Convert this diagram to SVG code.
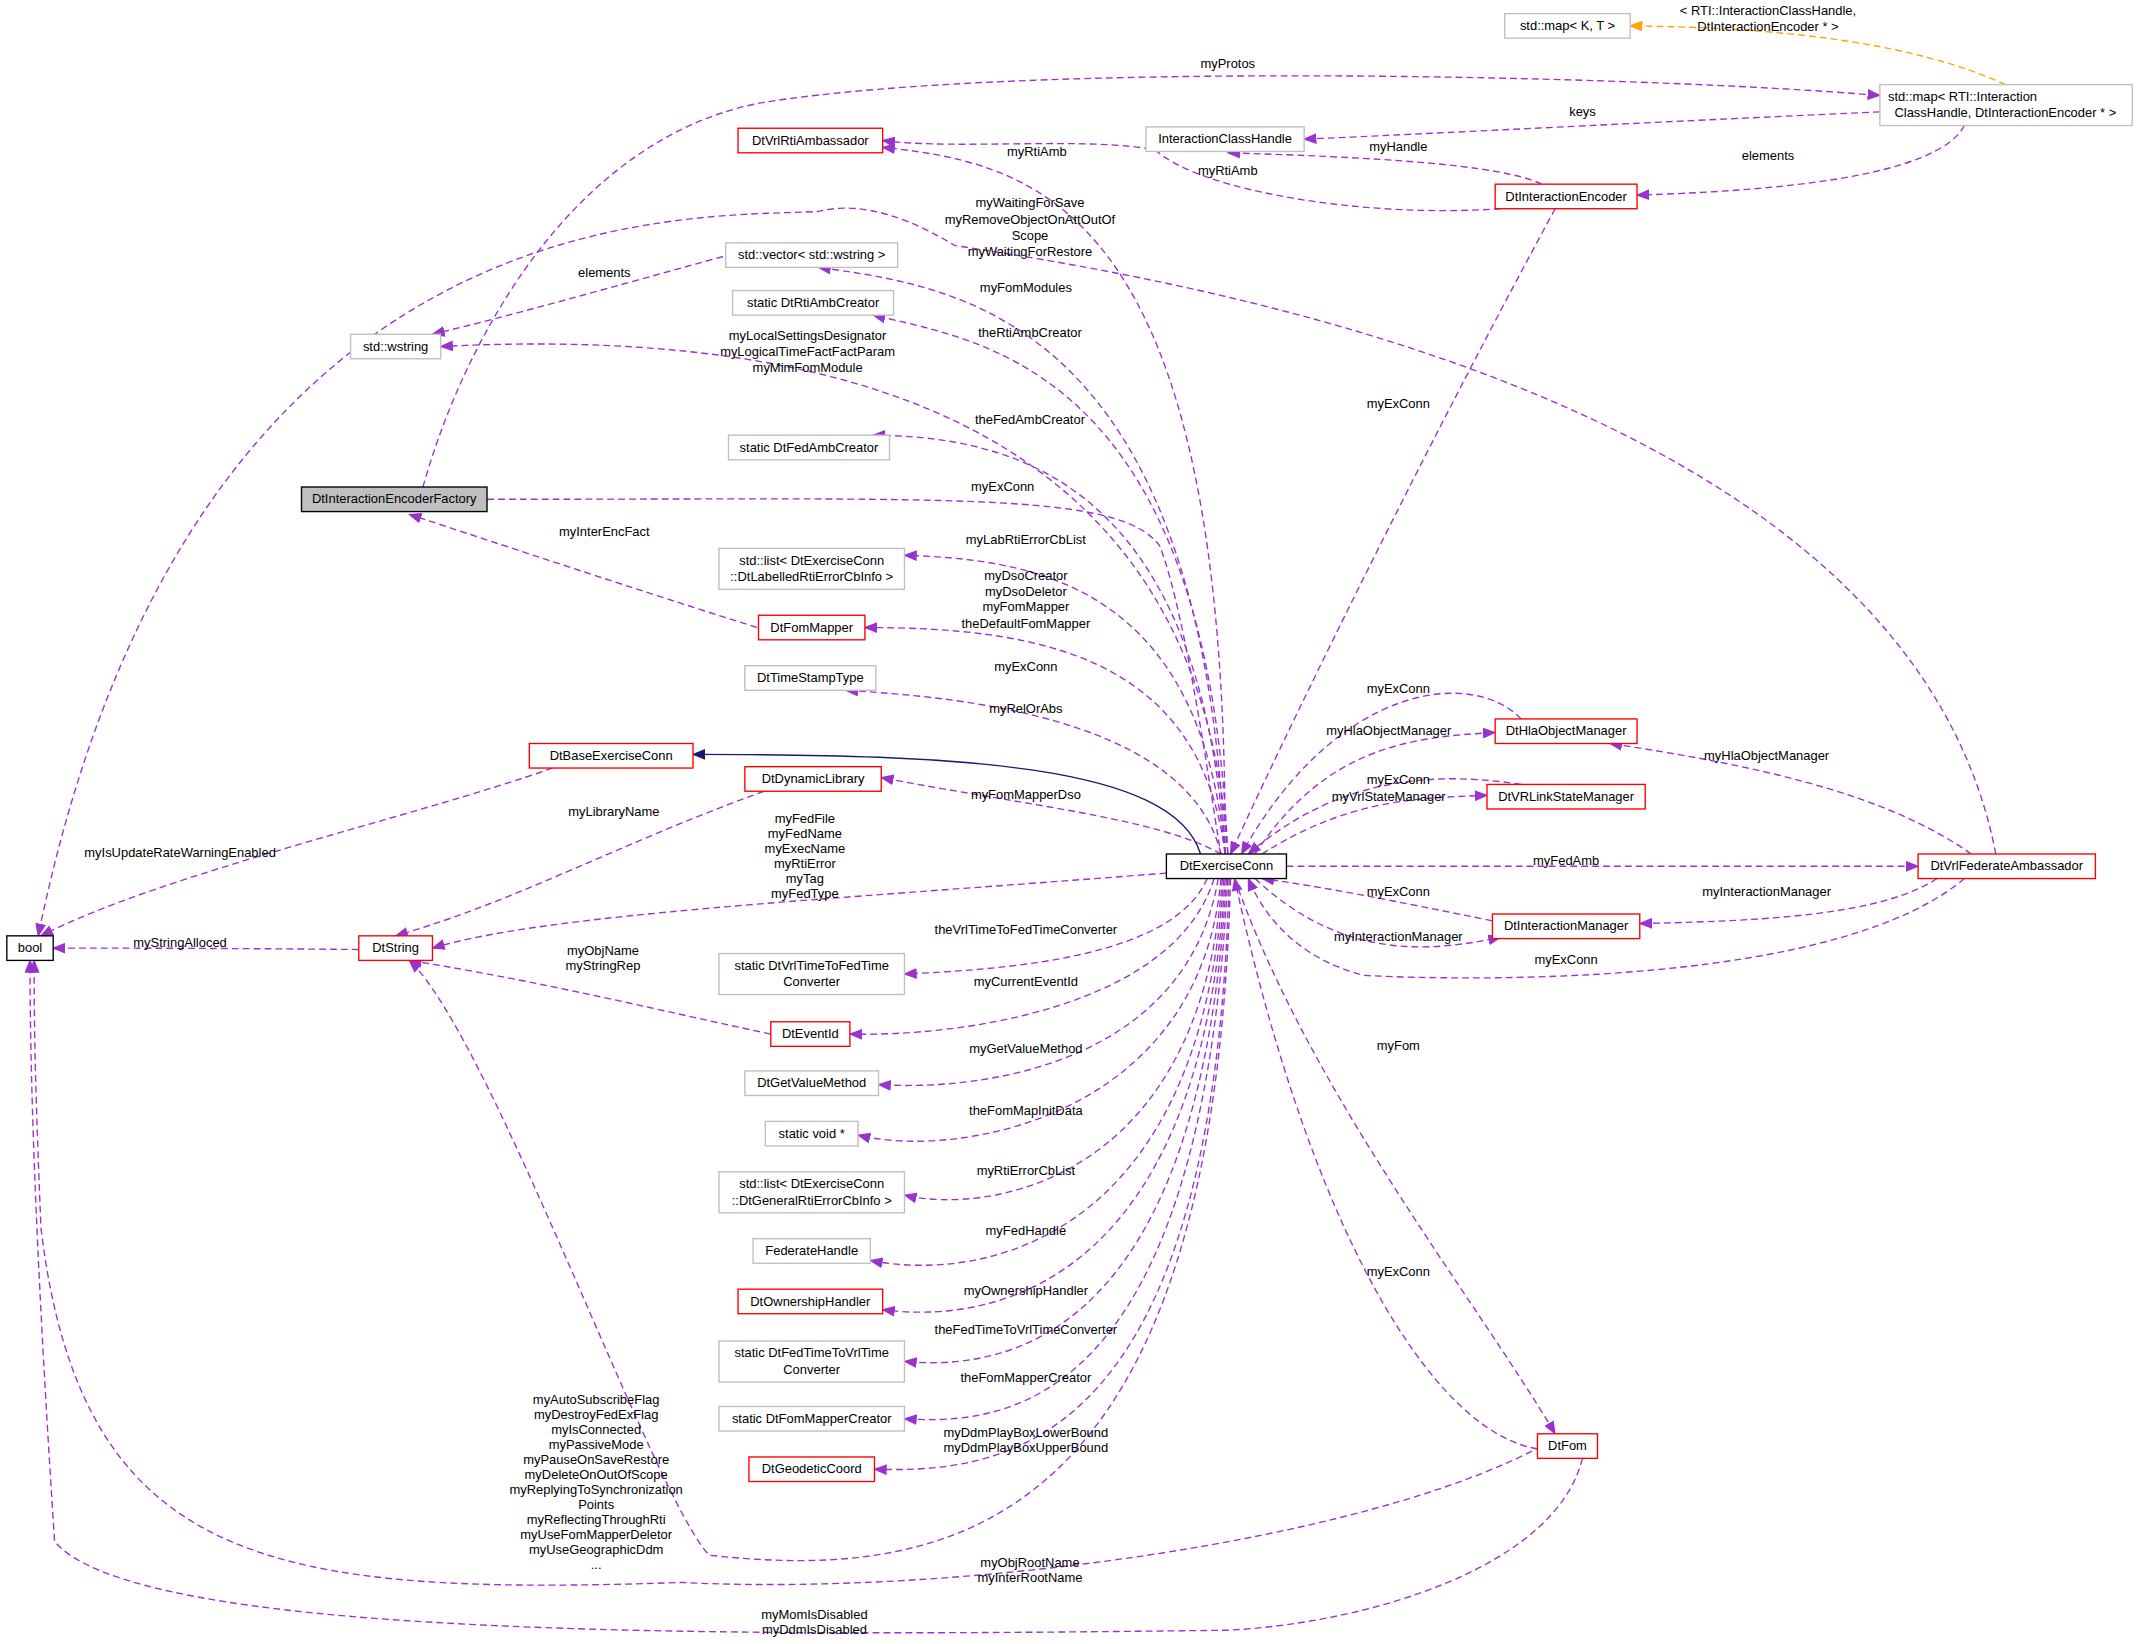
<svg xmlns="http://www.w3.org/2000/svg" width="2139" height="1644" viewBox="0 0 2139 1644">
<style>
.n rect{stroke-width:1}
.g{fill:#fff;stroke:#bfbfbf}
.r{fill:#fff;stroke:#ff0000}
.k{fill:#fff;stroke:#000}
text{font-family:"Liberation Sans",Arial,sans-serif;font-size:9.5px;fill:#000}
.e path{fill:none;stroke:#9a32cd;stroke-dasharray:5,3;stroke-width:1}
.c{text-anchor:middle}
</style>
<defs>
<marker id="a" markerUnits="userSpaceOnUse" markerWidth="10" markerHeight="8" refX="9" refY="4" orient="auto"><path d="M0,0L10,4L0,8z" fill="#9a32cd"/></marker>
<marker id="o" markerUnits="userSpaceOnUse" markerWidth="10" markerHeight="8" refX="9" refY="4" orient="auto"><path d="M0,0L10,4L0,8z" fill="#ffa500"/></marker>
<marker id="b" markerUnits="userSpaceOnUse" markerWidth="10" markerHeight="8" refX="9" refY="4" orient="auto"><path d="M0,0L10,4L0,8z" fill="#191970"/></marker>
</defs>
<rect width="2139" height="1644" fill="#fff"/>
<g transform="scale(1.3642)">
<g id="edges" class="e">
<path marker-end="url(#a)" d="M900,626C880,300 600,240 323,254"/>
<path marker-end="url(#a)" d="M898,626C880,230 700,210 600,196"/>
<path marker-end="url(#a)" d="M900,626C885,270 720,250 640,231"/>
<path marker-end="url(#a)" d="M898,626C880,350 740,320 640,319"/>
<path d="M357,366C700,366 820,360 850,400 870,450 890,600 895,626"/>
<path marker-end="url(#a)" d="M898,626C880,430 760,410 663,407"/>
<path marker-end="url(#a)" d="M898,626C880,480 760,460 634,460"/>
<path marker-end="url(#a)" d="M895,626C870,520 680,510 620,506"/>
<path marker-end="url(#a)" d="M898,626C900,150 760,120 647,108"/>
<path marker-end="url(#a)" d="M895,626C850,600 750,590 646,570"/>
<path marker-end="url(#a)" d="M855,640C600,660 400,670 317,695"/>
<path marker-end="url(#a)" d="M885,644C860,700 750,710 663,714"/>
<path marker-end="url(#a)" d="M890,644C860,740 700,760 623,758"/>
<path marker-end="url(#a)" d="M893,644C870,780 720,800 644,795"/>
<path marker-end="url(#a)" d="M895,644C880,820 700,850 629,832"/>
<path marker-end="url(#a)" d="M896,644C880,870 720,890 663,876"/>
<path marker-end="url(#a)" d="M897,644C880,910 720,940 638,924"/>
<path marker-end="url(#a)" d="M898,644C880,950 720,970 647,960"/>
<path marker-end="url(#a)" d="M899,644C880,980 740,1005 663,998"/>
<path marker-end="url(#a)" d="M900,644C880,1030 740,1045 663,1040"/>
<path marker-end="url(#a)" d="M901,644C890,1060 740,1080 641,1077"/>
<path marker-end="url(#a)" d="M902,644C890,1120 700,1160 520,1140 480,1100 360,760 300,704"/>
<path marker-end="url(#a)" d="M310,357C340,250 420,100 560,75 750,45 1200,55 1378,70"/>
<path marker-end="url(#a)" d="M1378,82C1200,90 1050,98 956,102"/>
<path marker-end="url(#a)" d="M1440,92C1420,130 1300,140 1200,143"/>
<path marker-end="url(#a)" d="M1100,153C1000,160 880,140 847,110 800,100 700,110 647,103"/>
<path marker-end="url(#a)" d="M1130,135C1100,120 1000,115 900,112"/>
<path marker-end="url(#a)" d="M1140,153C1060,300 960,500 902,626"/>
<path marker-end="url(#a)" d="M555,460C460,430 400,410 300,377"/>
<path marker-end="url(#a)" d="M263,696C150,695 80,695 39,695"/>
<path marker-end="url(#a)" d="M405,563C300,600 120,640 30,686"/>
<path marker-end="url(#a)" d="M565,758C480,740 400,720 300,704"/>
<path marker-end="url(#a)" d="M560,580C450,620 380,660 290,686"/>
<path marker-end="url(#a)" d="M530,188C450,210 380,230 317,245"/>
<path marker-end="url(#a)" d="M1463,626C1400,300 900,210 700,180 650,150 620,150 600,155 500,160 140,140 28,686"/>
<path marker-end="url(#a)" d="M1160,1069C1140,1150 1000,1190 900,1195 500,1200 100,1200 40,1130 25,900 22,780 22,704"/>
<path marker-end="url(#a)" d="M1130,1060C1000,1130 700,1170 500,1160 200,1170 60,1150 30,900 26,800 25,760 25,704"/>
<path marker-end="url(#a)" d="M1127,1062C1050,1050 960,900 905,644"/>
<path marker-end="url(#a)" d="M905,644C960,800 1080,950 1140,1051"/>
<path marker-end="url(#a)" d="M943,635C1150,635 1300,635 1406,635"/>
<path marker-end="url(#a)" d="M1445,626C1380,580 1280,560 1180,545"/>
<path marker-end="url(#a)" d="M1420,644C1380,670 1300,675 1202,677"/>
<path marker-end="url(#a)" d="M1440,644C1350,720 1100,720 1000,715 960,705 930,680 915,644"/>
<path marker-end="url(#a)" d="M1115,527C1080,490 980,500 910,626"/>
<path marker-end="url(#a)" d="M920,626C970,550 1030,540 1096,537"/>
<path marker-end="url(#a)" d="M1115,575C1050,565 980,570 915,626"/>
<path marker-end="url(#a)" d="M925,626C990,585 1040,585 1090,583"/>
<path marker-end="url(#a)" d="M1094,675C1020,660 970,650 925,644"/>
<path marker-end="url(#a)" d="M920,644C980,700 1040,700 1100,687"/>
<path marker-end="url(#o)" style="stroke:#ffa500" d="M1470,62C1400,30 1300,20 1195,19"/>
<path style="stroke:#191970;stroke-dasharray:none" marker-end="url(#b)" d="M880,626C860,560 700,553 508,553"/>
</g>
<g id="nodes">
<g id="n1"><rect class="k" x="5" y="686" width="34" height="18"/><text x="22" y="698" class="c">bool</text></g>
<g id="n2"><rect class="r" x="263" y="686" width="54" height="18"/><text x="290" y="698" class="c">DtString</text></g>
<g id="n3"><rect x="221" y="357" width="136" height="18" fill="#bfbfbf" stroke="#000"/><text x="289" y="369" class="c">DtInteractionEncoderFactory</text></g>
<g id="n4"><rect class="g" x="257" y="245" width="66" height="18"/><text x="290" y="257" class="c">std::wstring</text></g>
<g id="n5"><rect class="g" x="532" y="178" width="126" height="18"/><text x="595" y="190" class="c">std::vector&lt; std::wstring &gt;</text></g>
<g id="n6"><rect class="g" x="537" y="213" width="118" height="18"/><text x="596" y="225" class="c">static DtRtiAmbCreator</text></g>
<g id="n7"><rect class="g" x="534" y="319" width="118" height="18"/><text x="593" y="331" class="c">static DtFedAmbCreator</text></g>
<g id="n8"><rect class="g" x="527" y="402" width="136" height="30"/><text x="595" y="414" class="c">std::list&lt; DtExerciseConn</text><text x="595" y="426" class="c">::DtLabelledRtiErrorCbInfo &gt;</text></g>
<g id="n9"><rect class="r" x="556" y="451" width="78" height="18"/><text x="595" y="463" class="c">DtFomMapper</text></g>
<g id="n10"><rect class="g" x="546" y="488" width="96" height="18"/><text x="594" y="500" class="c">DtTimeStampType</text></g>
<g id="n11"><rect class="r" x="388" y="545" width="120" height="18"/><text x="448" y="557" class="c">DtBaseExerciseConn</text></g>
<g id="n12"><rect class="r" x="546" y="562" width="100" height="18"/><text x="596" y="574" class="c">DtDynamicLibrary</text></g>
<g id="n13"><rect class="g" x="527" y="699" width="136" height="30"/><text x="595" y="711" class="c">static DtVrlTimeToFedTime</text><text x="595" y="723" class="c">Converter</text></g>
<g id="n14"><rect class="r" x="565" y="749" width="58" height="18"/><text x="594" y="761" class="c">DtEventId</text></g>
<g id="n15"><rect class="g" x="546" y="785" width="98" height="18"/><text x="595" y="797" class="c">DtGetValueMethod</text></g>
<g id="n16"><rect class="g" x="561" y="822" width="68" height="18"/><text x="595" y="834" class="c">static void *</text></g>
<g id="n17"><rect class="g" x="527" y="859" width="136" height="30"/><text x="595" y="871" class="c">std::list&lt; DtExerciseConn</text><text x="595" y="883" class="c">::DtGeneralRtiErrorCbInfo &gt;</text></g>
<g id="n18"><rect class="g" x="552" y="908" width="86" height="18"/><text x="595" y="920" class="c">FederateHandle</text></g>
<g id="n19"><rect class="r" x="541" y="945" width="106" height="18"/><text x="594" y="957" class="c">DtOwnershipHandler</text></g>
<g id="n20"><rect class="g" x="527" y="983" width="136" height="30"/><text x="595" y="995" class="c">static DtFedTimeToVrlTime</text><text x="595" y="1007" class="c">Converter</text></g>
<g id="n21"><rect class="g" x="527" y="1031" width="136" height="18"/><text x="595" y="1043" class="c">static DtFomMapperCreator</text></g>
<g id="n22"><rect class="r" x="549" y="1068" width="92" height="18"/><text x="595" y="1080" class="c">DtGeodeticCoord</text></g>
<g id="n23"><rect class="r" x="541" y="94" width="106" height="18"/><text x="594" y="106" class="c">DtVrlRtiAmbassador</text></g>
<g id="n24"><rect class="k" x="855" y="626" width="88" height="18"/><text x="899" y="638" class="c">DtExerciseConn</text></g>
<g id="n25"><rect class="r" x="1096" y="135" width="104" height="18"/><text x="1148" y="147" class="c">DtInteractionEncoder</text></g>
<g id="n26"><rect class="g" x="840" y="93" width="116" height="18"/><text x="898" y="105" class="c">InteractionClassHandle</text></g>
<g id="n27"><rect class="g" x="1103" y="10" width="92" height="18"/><text x="1149" y="22" class="c">std::map&lt; K, T &gt;</text></g>
<g id="n28"><rect class="g" x="1378" y="62" width="185" height="30"/><text x="1384" y="74">std::map&lt; RTI::Interaction</text><text x="1470" y="86" class="c">ClassHandle, DtInteractionEncoder * &gt;</text></g>
<g id="n29"><rect class="r" x="1096" y="527" width="104" height="18"/><text x="1148" y="539" class="c">DtHlaObjectManager</text></g>
<g id="n30"><rect class="r" x="1090" y="575" width="116" height="18"/><text x="1148" y="587" class="c">DtVRLinkStateManager</text></g>
<g id="n31"><rect class="r" x="1406" y="626" width="130" height="18"/><text x="1471" y="638" class="c">DtVrlFederateAmbassador</text></g>
<g id="n32"><rect class="r" x="1094" y="670" width="108" height="18"/><text x="1148" y="682" class="c">DtInteractionManager</text></g>
<g id="n33"><rect class="r" x="1127" y="1051" width="44" height="18"/><text x="1149" y="1063" class="c">DtFom</text></g>
</g>
<g id="labels" class="c">
<text x="1296" y="11">&lt; RTI::InteractionClassHandle,</text><text x="1296" y="23">DtInteractionEncoder * &gt;</text>
<text x="900" y="50">myProtos</text>
<text x="1160" y="85">keys</text>
<text x="1296" y="117">elements</text>
<text x="1025" y="111">myHandle</text>
<text x="900" y="128">myRtiAmb</text>
<text x="760" y="114">myRtiAmb</text>
<text x="755" y="152">myWaitingForSave</text><text x="755" y="164">myRemoveObjectOnAttOutOf</text><text x="755" y="176">Scope</text><text x="755" y="188">myWaitingForRestore</text>
<text x="443" y="203">elements</text>
<text x="752" y="214">myFomModules</text>
<text x="755" y="247">theRtiAmbCreator</text>
<text x="592" y="249">myLocalSettingsDesignator</text><text x="592" y="261">myLogicalTimeFactFactParam</text><text x="592" y="273">myMimFomModule</text>
<text x="1025" y="299">myExConn</text>
<text x="755" y="311">theFedAmbCreator</text>
<text x="735" y="360">myExConn</text>
<text x="443" y="393">myInterEncFact</text>
<text x="752" y="399">myLabRtiErrorCbList</text>
<text x="752" y="425">myDsoCreator</text><text x="752" y="437">myDsoDeletor</text><text x="752" y="448">myFomMapper</text><text x="752" y="460">theDefaultFomMapper</text>
<text x="752" y="492">myExConn</text>
<text x="752" y="523">myRelOrAbs</text>
<text x="1025" y="508">myExConn</text>
<text x="1018" y="539">myHlaObjectManager</text>
<text x="1295" y="557">myHlaObjectManager</text>
<text x="1025" y="575">myExConn</text>
<text x="1018" y="587">myVrlStateManager</text>
<text x="752" y="586">myFomMapperDso</text>
<text x="450" y="598">myLibraryName</text>
<text x="590" y="603">myFedFile</text><text x="590" y="614">myFedName</text><text x="590" y="625">myExecName</text><text x="590" y="636">myRtiError</text><text x="590" y="647">myTag</text><text x="590" y="658">myFedType</text>
<text x="132" y="628">myIsUpdateRateWarningEnabled</text>
<text x="1148" y="634">myFedAmb</text>
<text x="1025" y="657">myExConn</text>
<text x="1295" y="657">myInteractionManager</text>
<text x="1025" y="690">myInteractionManager</text>
<text x="1148" y="707">myExConn</text>
<text x="132" y="694">myStringAlloced</text>
<text x="752" y="685">theVrlTimeToFedTimeConverter</text>
<text x="442" y="700">myObjName</text><text x="442" y="711">myStringRep</text>
<text x="752" y="723">myCurrentEventId</text>
<text x="1025" y="770">myFom</text>
<text x="752" y="772">myGetValueMethod</text>
<text x="752" y="817">theFomMapInitData</text>
<text x="752" y="861">myRtiErrorCbList</text>
<text x="752" y="905">myFedHandle</text>
<text x="1025" y="935">myExConn</text>
<text x="752" y="949">myOwnershipHandler</text>
<text x="752" y="978">theFedTimeToVrlTimeConverter</text>
<text x="752" y="1013">theFomMapperCreator</text>
<text x="752" y="1053">myDdmPlayBoxLowerBound</text><text x="752" y="1064">myDdmPlayBoxUpperBound</text>
<text x="437" y="1029">myAutoSubscribeFlag</text><text x="437" y="1040">myDestroyFedExFlag</text><text x="437" y="1051">myIsConnected</text><text x="437" y="1062">myPassiveMode</text><text x="437" y="1073">myPauseOnSaveRestore</text><text x="437" y="1084">myDeleteOnOutOfScope</text><text x="437" y="1095">myReplyingToSynchronization</text><text x="437" y="1106">Points</text><text x="437" y="1117">myReflectingThroughRti</text><text x="437" y="1128">myUseFomMapperDeletor</text><text x="437" y="1139">myUseGeographicDdm</text><text x="437" y="1150">...</text>
<text x="755" y="1149">myObjRootName</text><text x="755" y="1160">myInterRootName</text>
<text x="597" y="1187">myMomIsDisabled</text><text x="597" y="1198">myDdmIsDisabled</text>
</g>
</g>
</svg>
